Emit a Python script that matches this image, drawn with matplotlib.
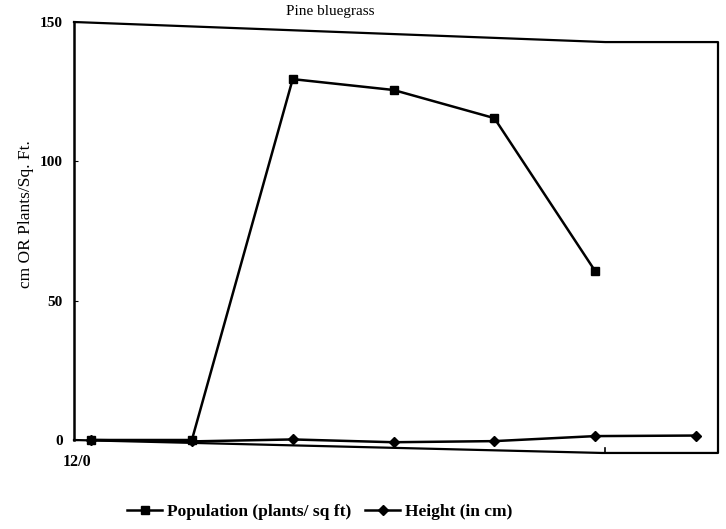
import numpy as np
import matplotlib.pyplot as plt

# data
dates = ['12/0', '', '', '', '', '', '']
population = [0, 0, 129.5, 125.6, 115.5, 60.6]
height = [0, -0.5, 0.2, -0.8, -0.4, 1.4, 1.6]
yticks = [0, 50, 100, 150]

serif = 'Liberation Serif'

fig = plt.figure(figsize=(7.26, 5.29), dpi=100)
ax = fig.add_axes([74 / 726, 89 / 529, 644 / 726, 418 / 529])

x_pop = np.arange(len(population))
x_h = np.arange(len(height))

ax.plot(x_pop, population, color='black', lw=1.8, marker='s', ms=6,
        label='Population (plants/ sq ft)', clip_on=False)
ax.plot(x_h, height, color='black', lw=1.8, marker='D', ms=5,
        label='Height (in cm)', clip_on=False)

ax.set_xlim(-0.169, 6.218)
ax.set_ylim(0, 150)

# skewed frame like the scanned original
for s in ['top', 'right', 'bottom']:
    ax.spines[s].set_visible(False)
ax.spines['left'].set_linewidth(1.8)
frame_x = [0, 0.825, 1, 1, 0.82, 0]
frame_y = [1, 0.952, 0.952, -0.031, -0.031, 0]
ax.plot(frame_x, frame_y, color='black', lw=1.6, transform=ax.transAxes,
        clip_on=False)
# small tick on the lower edge
ax.plot([0.8245, 0.8245], [-0.031, -0.019], color='black', lw=1.2,
        transform=ax.transAxes, clip_on=False)

ax.set_yticks(yticks)
ax.set_yticklabels([str(v) for v in yticks], fontfamily=serif,
                   fontweight='bold', fontsize=11)
ax.tick_params(axis='y', direction='in', length=3, pad=8)
ax.set_xticks([0])
ax.set_xticklabels(['12/0'], fontfamily=serif, fontweight='bold',
                   fontsize=11.5, ha='right')
ax.tick_params(axis='x', length=0, pad=10)

ax.set_ylabel('cm OR Plants/Sq. Ft.', fontfamily=serif, fontsize=12.5)
ax.yaxis.set_label_coords(-0.062, 0.54)
fig.text(330 / 726, 1 - 11 / 529, 'Pine bluegrass', fontfamily=serif,
         fontsize=11, ha='center', va='center')

leg = fig.legend(loc='center', bbox_to_anchor=(320 / 726, 1 - 512 / 529),
                 ncol=2, frameon=False, handlelength=2.0, handletextpad=0.3,
                 columnspacing=0.8,
                 prop={'family': serif, 'weight': 'bold', 'size': 12.5})

fig.savefig('out.png', dpi=100)
